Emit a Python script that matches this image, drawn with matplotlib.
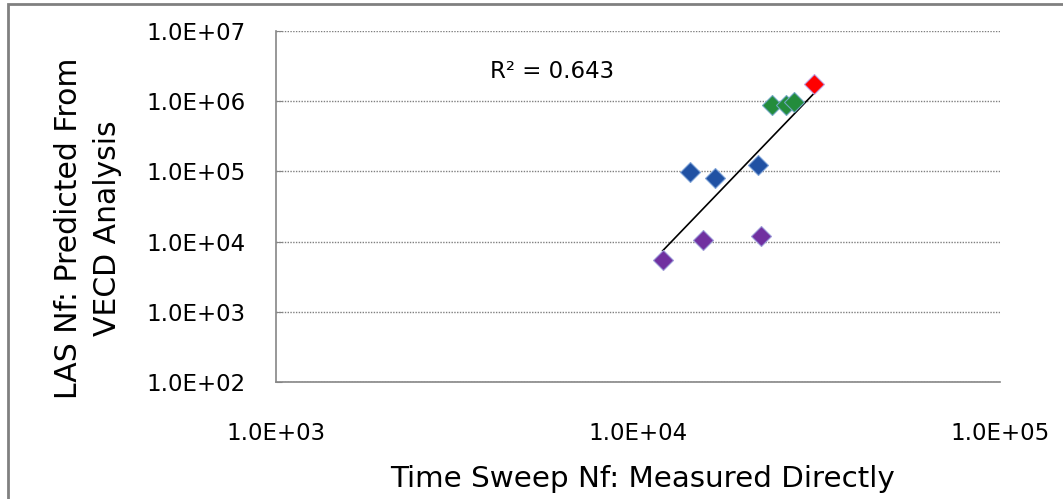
import numpy as np
import matplotlib
matplotlib.use("Agg")
import matplotlib.pyplot as plt
from matplotlib.ticker import FixedLocator, FuncFormatter, NullLocator
from matplotlib.patches import Rectangle

# ------------------------------------------
# Data
# ------------------------------------------

blue_x = [13900, 16300, 21500]
blue_y = [9.8e4, 8.1e4, 1.22e5]

purple_x = [11700, 15100, 21800]
purple_y = [5.5e3, 1.06e4, 1.22e4]

green_x = [23500, 25600, 27000]
green_y = [8.85e5, 8.85e5, 9.8e5]

red_x = [30600]
red_y = [1.75e6]

r2_label = "R² = 0.643"
x_ticks = [1e3, 1e4, 1e5]
y_ticks = [1e2, 1e3, 1e4, 1e5, 1e6, 1e7]

plt.rcParams['font.family'] = ['DejaVu Sans']

W, H = 1063, 499
fig = plt.figure(figsize=(W / 100, H / 100), dpi=100)

# plot area in pixels
left, right, top, bottom = 276, 1000, 31, 382
ax = fig.add_axes([left / W, 1 - bottom / H, (right - left) / W, (bottom - top) / H])

ax.set_xscale('log')
ax.set_yscale('log')
ax.set_xlim(1e3, 1e5)
ax.set_ylim(1e2, 1e7)

# ------------------------------------------
# Trendline (power fit over all points)
# ------------------------------------------

all_x = np.array(blue_x + purple_x + green_x + red_x)
all_y = np.array(blue_y + purple_y + green_y + red_y)
b, a = np.polyfit(np.log10(all_x), np.log10(all_y), 1)
tx = np.array([all_x.min(), all_x.max()])
ty = 10 ** (a + b * np.log10(tx))
ax.plot(tx, ty, color='black', lw=1.2, zorder=2)

# ------------------------------------------
# Points
# ------------------------------------------

marker_kw = dict(marker='D', linestyle='none', markersize=10.5,
                 markeredgewidth=0.8, zorder=3)
ax.plot(blue_x, blue_y, color='#2051A3', markeredgecolor='#7FA3D8', **marker_kw)
ax.plot(purple_x, purple_y, color='#7030A0', markeredgecolor='#9C9AD8', **marker_kw)
ax.plot(green_x, green_y, color='#238C3C', markeredgecolor='#6FA7C0', **marker_kw)
ax.plot(red_x, red_y, color='#FF0000', markeredgecolor='#C0A0E0', **marker_kw)

ax.text(0.381, 0.886, r2_label, transform=ax.transAxes, ha='center', va='center',
        fontsize=16.5, color='black')

# ------------------------------------------
# Axes styling
# ------------------------------------------

fmt = FuncFormatter(lambda v, p: f"{v:.1E}")
ax.xaxis.set_major_locator(FixedLocator(x_ticks))
ax.yaxis.set_major_locator(FixedLocator(y_ticks))
ax.xaxis.set_minor_locator(NullLocator())
ax.yaxis.set_minor_locator(NullLocator())
ax.xaxis.set_major_formatter(fmt)
ax.yaxis.set_major_formatter(fmt)

ax.tick_params(axis='x', length=0, pad=29, labelsize=16.5)
ax.tick_params(axis='y', direction='in', length=4, color='#868686',
               pad=22, labelsize=16.5)

for s in ['top', 'right']:
    ax.spines[s].set_visible(False)
for s in ['left', 'bottom']:
    ax.spines[s].set_color('#868686')
    ax.spines[s].set_linewidth(1.2)

ax.yaxis.grid(True, linestyle=(0, (1, 1)), color='#7f7f7f', lw=1)
ax.xaxis.grid(False)
ax.set_axisbelow(True)

# axis titles
fig.text(88 / W, 1 - 228 / H, "LAS Nf: Predicted From\nVECD Analysis",
         rotation=90, ha='center', va='center', fontsize=21.5, linespacing=1.45)
fig.text(642 / W, 1 - 487 / H, "Time Sweep Nf: Measured Directly",
         ha='center', va='baseline', fontsize=21.2)

# outer chart border
fig.patches.append(Rectangle((8 / W, -0.1), 1.2, 1.1 - 4 / H, transform=fig.transFigure,
                             fill=False, edgecolor='#808080', lw=2))

fig.savefig('out.png', dpi=100)
